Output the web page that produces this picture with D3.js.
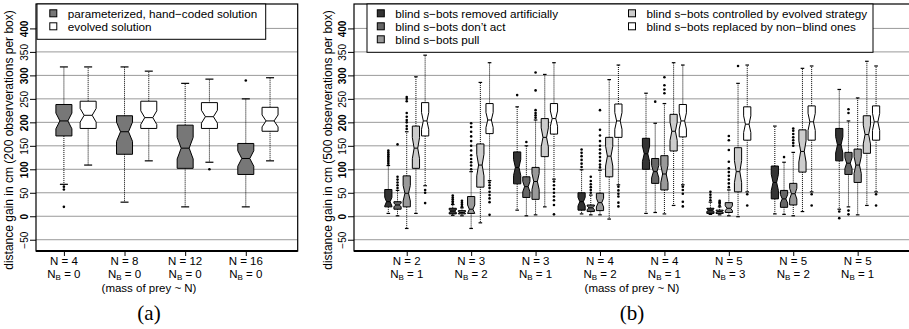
<!DOCTYPE html>
<html>
<head>
<meta charset="utf-8">
<script src="https://cdn.jsdelivr.net/npm/d3@7"></script>
<style>
  body { margin: 0; background: #fff; }
  svg { display: block; }
  text { font-family: "Liberation Sans", Arial, sans-serif; fill: #000; }
</style>
</head>
<body>
<div id="chart"></div>
<script>
// ---- panel (a): [lower whisker, Q1, median, Q3, upper whisker]
const groupsA = [{ n: 4, nb: 0 }, { n: 8, nb: 0 }, { n: 12, nb: 0 }, { n: 16, nb: 0 }];
const handCoded = [[68, 171, 203, 238, 318], [30, 132, 180, 214, 318], [20, 102, 145, 194, 283], [20, 89, 123, 155, 250]];
const handCodedOut = [[63, 57, 20], [], [], [289]];
const evolvedA = [[109, 187, 215, 245, 318], [118, 187, 210, 245, 309], [115, 187, 212, 242, 292], [118, 181, 203, 232, 295]];
const evolvedAOut = [[], [], [100], []];

// ---- panel (b)
const groupsB = [
  { n: 2, nb: 1 }, { n: 3, nb: 2 }, { n: 3, nb: 1 }, { n: 4, nb: 2 },
  { n: 4, nb: 1 }, { n: 5, nb: 3 }, { n: 5, nb: 2 }, { n: 5, nb: 1 }
];
const removed = [[6, 20, 31, 57, 108], [2, 5, 11, 17, 25], [13, 69, 104, 137, 233], [5, 13, 31, 50, 99],
  [6, 100, 133, 166, 262], [4, 6, 13, 17, 30], [5, 37, 72, 107, 192], [15, 118, 152, 187, 270]];
const removedOut = [[112, 116, 120, 124, 128, 132, 136, 140], [28, 32, 36, 40, 44], [258], [105, 112, 120, 128, 135, 142],
  [], [34, 40, 46, 52], [], [10, -4]];
const dontAct = [[1, 15, 24, 31, 55], [1, 5, 8, 12, 18], [1, 40, 63, 84, 150], [3, 10, 18, 24, 45],
  [8, 70, 95, 123, 198], [3, 6, 10, 13, 20], [4, 19, 37, 55, 115], [20, 89, 113, 136, 203]];
const dontActOut = [[60, 66, 72, 78, 84, 153], [21, 25, 29, 33], [158], [50, 56, 62, 68, 75, 84],
  [244], [23, 27, 30, 33], [126], [4, 12, 220, 228]];
const pull = [[-26, 20, 49, 86, 180], [-26, 6, 15, 42, 95], [3, 36, 74, 104, 205], [3, 12, 29, 49, 98],
  [5, 56, 90, 129, 240], [1, 8, 17, 29, 56], [1, 24, 48, 70, 136], [3, 72, 109, 143, 252]];
const pullOut = [[186, 192, 200, 205, 212, 220, 245, 250, 254],
  [100, 108, 115, 122, 130, 140, 150, 160, 170, 180, 190, 198],
  [210, 215, 220, 226, 268, 306],
  [104, 110, 118, 126, 134, 142, 150, 160, 172, 184, 226],
  [262, 270, 279, 296],
  [62, 70, 78, 86, 94, 102, 116, 141, 162, 171],
  [150, 156, 162, 168, 175, 182, 187], []];
const evolvedB = [[6, 102, 145, 192, 297], [-14, 62, 109, 154, 285], [20, 127, 168, 208, 302], [-6, 84, 128, 168, 291],
  [23, 139, 181, 217, 327], [-1, 52, 95, 146, 283], [10, 94, 138, 184, 315], [23, 134, 174, 214, 330]];
const evolvedBOut = [[], [], [], [], [], [320], [], []];
const nonBlind = [[65, 171, 203, 242, 343], [76, 176, 205, 240, 327], [79, 175, 208, 240, 327], [67, 168, 203, 239, 322],
  [67, 169, 203, 238, 322], [52, 162, 196, 233, 322], [52, 162, 201, 235, 320], [52, 162, 201, 235, 320]];
const nonBlindOut = [[56, 50, 28], [72, 66, 60, 52, 45, 38, 30, 3], [74, 66, 58, 50, 42, 34, 24, 4], [63, 55, 48, 42, 29, 21],
  [63, 56, 48, 31, 21], [47, 23], [47, 23], [47, 23]];

const yTicks = d3.range(-50, 401, 50);

const svg = d3.select('#chart').append('svg')
  .attr('width', 909)
  .attr('height', 329);

const y = d3.scaleLinear().domain([-74, 452]).range([251, 4]);

function drawBox(g, cx, hw, s, outs, fill) {
  const [lo, q1, med, q3, hi] = s;
  const n = 0.25 * (q3 - q1);
  const xl = cx - hw, xr = cx + hw, nl = cx - hw / 2, nr = cx + hw / 2;
  // whiskers
  g.append('line').attr('x1', cx).attr('x2', cx).attr('y1', y(q3)).attr('y2', y(hi))
    .attr('stroke', '#000').attr('stroke-width', 1).attr('stroke-dasharray', '1,1');
  g.append('line').attr('x1', cx).attr('x2', cx).attr('y1', y(q1)).attr('y2', y(lo))
    .attr('stroke', '#000').attr('stroke-width', 1).attr('stroke-dasharray', '1,1');
  [lo, hi].forEach(v => {
    g.append('line').attr('x1', nl).attr('x2', nr).attr('y1', y(v)).attr('y2', y(v))
      .attr('stroke', '#000').attr('stroke-width', 1.2);
  });
  // notched box
  const pts = [[xl, q3], [xr, q3], [xr, med + n], [nr, med], [xr, med - n], [xr, q1],
    [xl, q1], [xl, med - n], [nl, med], [xl, med + n]];
  g.append('path')
    .attr('d', 'M' + pts.map(p => `${p[0]},${y(p[1])}`).join('L') + 'Z')
    .attr('fill', fill).attr('stroke', '#000').attr('stroke-width', 1);
  g.append('line').attr('x1', nl).attr('x2', nr).attr('y1', y(med)).attr('y2', y(med))
    .attr('stroke', '#000').attr('stroke-width', 1);
  outs.forEach(v => {
    g.append('circle').attr('cx', cx).attr('cy', y(v)).attr('r', 1.3).attr('fill', '#000');
  });
}

function drawPanel(p) {
  const g = svg.append('g');
  const [x0, x1] = p.x.range();

  // grid
  g.selectAll('.grid').data(yTicks).enter().append('line')
    .attr('x1', x0).attr('x2', x1)
    .attr('y1', d => y(d)).attr('y2', d => y(d))
    .attr('stroke', '#999').attr('stroke-width', 1);

  // boxes
  p.series.forEach((s, si) => {
    p.groups.forEach((grp, gi) => {
      drawBox(g, p.x(p.pos(gi, si)), p.halfW, s.stats[gi], s.outs[gi], s.fill);
    });
  });

  // border
  g.append('rect').attr('x', x0).attr('y', 4).attr('width', x1 - x0).attr('height', 247)
    .attr('fill', 'none').attr('stroke', '#000').attr('stroke-width', 1.2);
  g.append('line').attr('x1', x0).attr('x2', x1).attr('y1', 251).attr('y2', 251)
    .attr('stroke', '#000').attr('stroke-width', 2);

  // y axis
  const ya = g.append('g').attr('transform', `translate(${x0},0)`)
    .call(d3.axisLeft(y).tickValues(yTicks).tickSize(6).tickFormat(d => d < 0 ? '\u221250' : d));
  ya.select('.domain').remove();
  ya.selectAll('.tick line').attr('stroke', '#000');
  ya.selectAll('.tick text')
    .attr('x', null).attr('dy', null)
    .attr('transform', 'translate(-8,0) rotate(-90)')
    .attr('text-anchor', 'middle')
    .style('font-family', '"Liberation Sans", Arial, sans-serif')
    .style('font-size', '10px')
    .style('font-weight', d => d % 100 === 0 ? 'bold' : 'normal');

  g.append('text')
    .attr('transform', `translate(${p.titleX},140) rotate(-90)`)
    .attr('text-anchor', 'middle')
    .style('font-size', '12px')
    .text(p.title);

  // x axis ticks and labels
  const xa = g.append('g').attr('transform', 'translate(0,251)')
    .call(d3.axisBottom(p.x).tickValues(p.groups.map((d, i) => p.tick(i))).tickSize(5).tickFormat(''));
  xa.select('.domain').remove();

  p.groups.forEach((grp, gi) => {
    const cx = p.x(p.tick(gi));
    g.append('text').attr('x', cx).attr('y', 264.5).attr('text-anchor', 'middle')
      .style('font-size', '11.5px').text(`N = ${grp.n}`);
    const t = g.append('text').attr('x', cx).attr('y', 278).attr('text-anchor', 'middle')
      .style('font-size', '11.5px');
    t.append('tspan').text('N');
    t.append('tspan').attr('dy', 2).style('font-size', '8px').text('B');
    t.append('tspan').attr('dy', -2).text(' = ' + grp.nb);
  });

  g.append('text').attr('x', p.massX).attr('y', 292).attr('text-anchor', 'middle')
    .style('font-size', '11.5px').text('(mass of prey ~ N)');
  g.append('text').attr('x', p.massX).attr('y', 320).attr('text-anchor', 'middle')
    .style('font-family', '"Liberation Serif", "DejaVu Serif", serif')
    .style('font-size', '21px').text(p.letter);

  // legend
  const lg = p.legend;
  g.append('rect').attr('x', lg.x).attr('y', 4).attr('width', lg.w).attr('height', lg.h)
    .attr('fill', '#fff').attr('stroke', '#000').attr('stroke-width', 1);
  p.series.forEach((s, si) => {
    const col = Math.floor(si / lg.rows), row = si % lg.rows;
    const cy = 13.3 + row * 13;
    const sx = lg.sq[col];
    g.append('rect').attr('x', sx - 3.5).attr('y', cy - 3.5).attr('width', 7).attr('height', 7)
      .attr('fill', s.fill).attr('stroke', '#000').attr('stroke-width', 1);
    g.append('text').attr('x', sx + 14.5).attr('y', cy + 4.2)
      .style('font-size', '11.7px').text(s.name);
  });
}

drawPanel({
  x: d3.scaleLinear().domain([-0.15, 10.64]).range([36, 297.7]),
  pos: (gi, si) => 1 + gi * 2.5 + si,
  tick: gi => 1 + gi * 2.5,
  halfW: 8,
  groups: groupsA,
  series: [
    { name: 'parameterized, hand\u2212coded solution', stats: handCoded, outs: handCodedOut, fill: '#777' },
    { name: 'evolved solution', stats: evolvedA, outs: evolvedAOut, fill: '#fff' }
  ],
  title: 'distance gain in cm (200 observerations per box)',
  titleX: 13,
  massX: 149,
  letter: '(a)',
  legend: { x: 37, w: 228.7, h: 35.3, rows: 2, sq: [53.3] }
});

drawPanel({
  x: d3.scaleLinear().domain([-3.73, 56.73]).range([354, 910.4]),
  pos: (gi, si) => gi * 7 + si,
  tick: gi => gi * 7 + 2,
  halfW: 3.6,
  groups: groupsB,
  series: [
    { name: 'blind s\u2212bots removed artificially', stats: removed, outs: removedOut, fill: '#333' },
    { name: 'blind s\u2212bots don\u2019t act', stats: dontAct, outs: dontActOut, fill: '#666' },
    { name: 'blind s\u2212bots pull', stats: pull, outs: pullOut, fill: '#999' },
    { name: 'blind s\u2212bots controlled by evolved strategy', stats: evolvedB, outs: evolvedBOut, fill: '#ccc' },
    { name: 'blind s\u2212bots replaced by non\u2212blind ones', stats: nonBlind, outs: nonBlindOut, fill: '#fff' }
  ],
  title: 'distance gain in cm (500 observerations per box)',
  titleX: 331.5,
  massX: 632,
  letter: '(b)',
  legend: { x: 367, w: 506, h: 48.3, rows: 3, sq: [380.8, 632] }
});
</script>
</body>
</html>
